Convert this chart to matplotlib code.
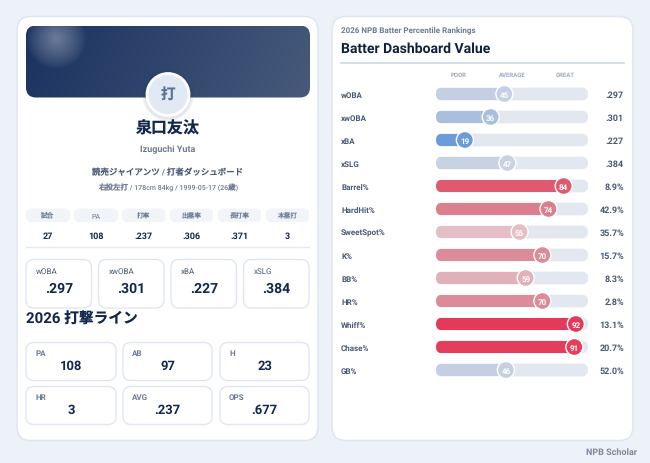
import numpy as np
import matplotlib
matplotlib.use("Agg")
import matplotlib.pyplot as plt
from matplotlib.patches import FancyBboxPatch, Circle

plt.rcParams['font.family'] = ['Roboto', 'Noto Sans CJK JP', 'DejaVu Sans']
plt.rcParams['text.hinting'] = 'no_hinting'
plt.rcParams['text.hinting_factor'] = 1

metrics = ['wOBA', 'xwOBA', 'xBA', 'xSLG', 'Barrel%', 'HardHit%', 'SweetSpot%', 'K%', 'BB%', 'HR%', 'Whiff%', 'Chase%', 'GB%']
percentiles = [45, 36, 19, 47, 84, 74, 55, 70, 59, 70, 92, 91, 46]
metric_values = ['.297', '.301', '.227', '.384', '8.9%', '42.9%', '35.7%', '15.7%', '8.3%', '2.8%', '13.1%', '20.7%', '52.0%']
bar_colors = ['#c3cfe2', '#a9bfdc', '#6b9bd9', '#c7d2e3', '#df5a70', '#dc7f8d', '#e5bfc6', '#dc8b98',
              '#e1b1ba', '#dc8b98', '#e43a59', '#e33e5b', '#c4d0e2']
scale_labels = ['POOR', 'AVERAGE', 'GREAT']
stat_heads = ['試合', 'PA', '打率', '出塁率', '長打率', '本塁打']
stat_vals = ['27', '108', '.237', '.306', '.371', '3']
x_heads = ['wOBA', 'xwOBA', 'xBA', 'xSLG']
x_vals = ['.297', '.301', '.227', '.384']
line_heads = ['PA', 'AB', 'H', 'HR', 'AVG', 'OPS']
line_vals = ['108', '97', '23', '3', '.237', '.677']

W, H = 650, 464
NAVY = '#12274d'
SLATE = '#4a5a74'
GREY = '#6d7b92'
BORDER = '#e0e6f1'

fig = plt.figure(figsize=(W / 100, H / 100), dpi=100, facecolor='#edf1f8')
ax = fig.add_axes([0, 0, 1, 1])
ax.set_xlim(0, W)
ax.set_ylim(H, 0)
ax.axis('off')


def rbox(x0, y0, x1, y1, r, fc='white', ec=BORDER, lw=1.0, z=1, a=ax):
    p = FancyBboxPatch((x0 + r, y0 + r), x1 - x0 - 2 * r, y1 - y0 - 2 * r,
                       boxstyle=f'round,pad={r},rounding_size={r}',
                       fc=fc, ec=ec, lw=lw, zorder=z)
    a.add_patch(p)
    return p


def txt(x, y, s, size, color=NAVY, weight='normal', ha='center', z=6):
    ax.text(x, y + 0.6, s, fontsize=size, color=color, fontweight=weight, ha=ha, va='center', zorder=z)


# Panels
rbox(17, 17.5, 318, 441.5, 14, lw=1.1)
rbox(332, 17.5, 633, 441.5, 14, lw=1.1)

# Banner gradient and glow
bx0, bx1, by0, by1 = 26, 310, 26.5, 98.5
yy, xx = np.mgrid[by0:by1:144j, bx0:bx1:568j]
t = np.clip(((xx - bx0) / (bx1 - bx0) * 0.9 + (yy - by0) / (by1 - by0) * 0.1), 0, 1)
c0, c1 = np.array([0x1a, 0x32, 0x60]) / 255, np.array([0x47, 0x5a, 0x7b]) / 255
img = c0[None, None, :] * (1 - t[..., None]) + c1[None, None, :] * t[..., None]
d = np.hypot(xx - 56, yy - 39) / 30
glow = (np.clip(1 - d, 0, 1) ** 0.8 * 0.34)[..., None]
img = img * (1 - glow) + glow
clip = rbox(bx0, by0, bx1, by1, 10, fc='none', ec='none', z=2)
im = ax.imshow(img, extent=(bx0, bx1, by1, by0), zorder=2, aspect='auto', interpolation='bilinear')
im.set_clip_path(clip)
ax.set_xlim(0, W)
ax.set_ylim(H, 0)

# Avatar
for r, al in [(26, 0.03), (25, 0.04), (24, 0.05)]:
    ax.add_patch(Circle((168, 96.5), r, fc='#1a3260', ec='none', alpha=al, zorder=3))
ax.add_patch(Circle((168, 95.5), 21, fc='#e0e9f4', ec='white', lw=2.0, zorder=4))
txt(168, 94.5, '打', 10.5, color='#5b7396', weight='bold')

# Header text
txt(168, 128, '泉口友汰', 11.5, weight='bold')
txt(168, 149.5, 'Izuguchi Yuta', 6.7, color=GREY, weight='bold')
txt(168, 171.5, '読売ジャイアンツ / 打者ダッシュボード', 6.1, color=SLATE, weight='medium')
txt(168, 187.5, '右投左打 / 178cm 84kg / 1999-05-17 (26歳)', 5.4, color=GREY, weight='medium')

# Stat chips
chip_x = [(26, 70), (74, 118), (122, 165.5), (170, 213), (218, 261), (266, 309)]
for (a, b), h, v in zip(chip_x, stat_heads, stat_vals):
    rbox(a, 209.5, b, 223, 5, fc='#f1f4f9', ec='none', z=2)
    txt((a + b) / 2, 216, h, 4.8, color=GREY)
    txt((a + b) / 2, 235.5, v, 6.6, weight='bold')
ax.plot([26, 309], [247.5, 247.5], color='#e3e8f1', lw=1.0, zorder=2)

# Expected-stat cards
card_x = [(26, 91.5), (98.5, 164), (171, 236.5), (243.5, 309)]
for (a, b), h, v in zip(card_x, x_heads, x_vals):
    rbox(a, 260.5, b, 309, 8, lw=1.0, z=2)
    txt(a + 10, 271.5, h, 6.1, color=SLATE, ha='left')
    txt((a + b) / 2, 288, v, 10.3, weight='bold')

txt(26, 319, '2026 打撃ライン', 10.6, weight='bold', ha='left')

# Batting line cards
cols = [(26, 116), (123, 212), (220, 309)]
rows = [(343.5, 381.5), (387.5, 425.5)]
for i, (h, v) in enumerate(zip(line_heads, line_vals)):
    a, b = cols[i % 3]
    y0, y1 = rows[i // 3]
    rbox(a, y0, b, y1, 8, lw=1.0, z=2)
    txt(a + 9, y0 + 9.5, h, 5.6, color=GREY, ha='left', weight='bold')
    txt((a + b) / 2, y0 + 22.5, v, 9.2, weight='bold')

# Right panel header
txt(341, 29.5, '2026 NPB Batter Percentile Rankings', 5.9, color=GREY, ha='left', weight='bold')
txt(341, 48.5, 'Batter Dashboard Value', 10.0, color='#0f1f3d', weight='bold', ha='left')
ax.plot([341, 624], [63.5, 63.5], color='#cdd8ea', lw=1.2, zorder=2)

# Percentile bars: own axes with a 0-100 scale
rows_top, row_step = 95, 23
n = len(metrics)
plot_top = rows_top - row_step / 2
plot_bot = rows_top + row_step * (n - 0.5)
bar = fig.add_axes([436 / W, 1 - plot_bot / H, 152 / W, (plot_bot - plot_top) / H], facecolor='none')
bar.set_xlim(0, 100)
bar.set_ylim(n - 0.5, -0.5)
bar.axis('off')
ys = np.arange(n)
bar_h = 12.7 / row_step
for y, p, col in zip(ys, percentiles, bar_colors):
    rx = bar_h / 2 * row_step * 100 / 152
    track = FancyBboxPatch((0, y - bar_h / 2), 100, bar_h,
                           boxstyle=f'round,pad=0,rounding_size={rx}',
                           mutation_aspect=(bar_h / 2) / rx,
                           fc='#e2e7f0', ec='none', zorder=1, transform=bar.transData)
    bar.add_patch(track)
    b = bar.barh(y, p, height=bar_h, color=col, zorder=2)
    b[0].set_clip_path(track)
bar.scatter(percentiles, ys, s=(17 * 0.72) ** 2, c=bar_colors, edgecolors='white', linewidths=1.0,
            zorder=3, clip_on=False)
for y, p, m, v in zip(ys, percentiles, metrics, metric_values):
    bar.text(p, y + 0.02, str(p), fontsize=5.6, color='white', fontweight='bold', ha='center', va='center', zorder=4)
    ly = rows_top + row_step * y
    txt(341, ly, m, 5.9, color=SLATE, ha='left', weight='bold')
    txt(624, ly, v, 6.5, color=SLATE, ha='right', weight='bold')

for x, s in zip([459, 512, 565], scale_labels):
    txt(x, 75, s, 4.6, color='#9aa8bd', weight='bold')

txt(637, 451.5, 'NPB Scholar', 6.2, color='#7d899c', ha='right', weight='bold')

fig.savefig('out.png', dpi=100, facecolor=fig.get_facecolor())
